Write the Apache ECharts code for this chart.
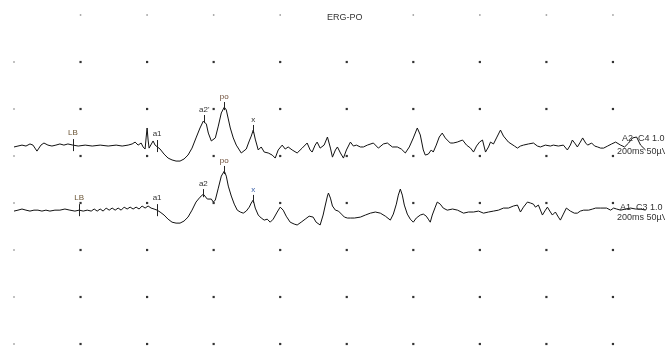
<!DOCTYPE html>
<html>
<head>
<meta charset="utf-8">
<script src="https://cdn.jsdelivr.net/npm/echarts@6/dist/echarts.min.js"></script>
<style>
  html, body { margin: 0; padding: 0; background: #fff; }
  #chart { width: 665px; height: 347px; }
</style>
</head>
<body>
<div id="chart"></div>
<script>
// Channel A2-C4: sample times (ms) and amplitudes (µV)
const ch1Time = [
  0.0,1.2,2.4,3.6,4.8,5.7,6.3,6.9,7.5,8.1,
  9.0,10.2,11.4,12.6,13.8,15.0,16.2,17.7,19.3,21.4,
  23.5,25.9,28.3,30.7,32.5,34.3,35.5,36.4,37.3,38.2,
  38.8,39.4,39.7,40.0,40.3,40.6,41.2,41.8,42.4,43.0,
  43.9,45.1,46.3,47.5,48.7,49.9,51.1,52.3,53.5,54.7,
  55.9,56.9,57.2,57.8,58.4,59.3,59.9,60.5,61.4,62.3,
  63.2,63.8,64.4,65.0,65.9,66.8,67.4,68.3,68.9,69.8,
  70.7,71.3,71.9,72.5,73.4,74.3,75.2,76.4,77.6,78.5,
  79.4,80.6,81.5,82.4,83.6,85.1,86.6,88.1,89.0,89.6,
  90.5,91.1,92.0,93.2,94.2,95.1,95.7,96.6,97.2,98.1,
  99.0,99.9,101.1,102.0,102.9,104.1,105.0,106.2,108.0,109.5,
  111.0,112.2,113.7,115.2,116.4,117.6,118.8,120.0,121.2,122.1,
  123.0,123.6,124.5,125.4,126.0,126.9,127.8,128.7,129.6,130.2,
  131.1,132.0,133.2,134.8,136.0,137.2,138.1,139.0,139.9,140.8,
  141.7,142.6,143.2,144.1,145.0,146.2,147.1,147.7,148.6,149.2,
  150.4,151.3,152.2,153.1,154.6,156.1,157.3,158.2,159.7,161.2,
  162.1,163.6,165.1,166.3,167.2,167.8,168.7,169.3,170.2,170.9,
  171.8,172.4,173.6,174.5,175.4,176.3,177.2,178.4,179.6,180.8,
  182.3,183.5,184.7,185.9,187.1,188.3,189.8
];
const ch1Volt = [
  -0.5,0,0.5,0,1.1,0.5,-1.1,-2.7,-1.1,0.5,
  1.6,0.5,0,0.5,1.1,0.5,1.1,0.5,0,0.5,
  0,0.5,0,0.5,0,0.5,1.1,2.1,0.5,1.6,
  -0.5,-1.6,4.3,9.6,3.2,-1.1,-0.5,2.7,0.5,0,
  -1.6,-4.3,-6.4,-7.4,-8.0,-8.0,-6.9,-4.8,-1.1,4.3,
  9.6,13.3,13.8,11.7,6.9,2.7,2.1,4.3,10.6,17.6,
  20.7,19.2,14.4,9.6,4.3,0.5,-0.5,-3.7,-4.3,-1.6,
  2.7,5.3,8.5,3.7,-2.1,-0.5,-3.2,-3.7,-4.8,-6.4,
  -2.1,0.5,-1.6,-0.5,-2.1,-3.7,-1.1,1.6,-2.1,-3.2,
  0.5,2.1,-1.1,0.5,4.8,-1.1,-5.9,-2.1,-0.5,-3.7,
  -6.4,-2.1,2.1,0,0.5,-0.5,-0.5,0.5,1.6,-1.1,
  1.1,1.6,-0.5,-0.5,-1.6,-3.7,-0.5,4.3,9.6,5.9,
  -2.1,-4.8,-4.3,-2.1,-3.2,0.5,4.8,6.9,4.3,3.2,
  1.6,1.6,2.1,3.2,0.5,-1.1,-3.2,0,2.1,3.2,
  -3.2,-0.5,2.1,1.1,4.3,8.5,5.3,4.3,2.1,1.6,
  0,-1.1,0,0.5,1.1,1.6,0,-0.5,0.5,0,
  0.5,0,0.5,-2.1,0.5,3.2,1.1,-0.5,2.1,4.3,
  1.6,0.5,1.6,0,-0.5,-1.1,-1.1,0,1.1,2.1,
  0.5,-0.5,1.6,4.3,4.8,0.5,-2.1
];

// Channel A1-C3: sample times (ms) and amplitudes (µV)
const ch2Time = [
  0.0,1.2,2.4,3.6,4.8,6.0,7.2,8.4,9.6,10.8,
  12.3,13.8,15.3,16.8,18.3,19.6,20.8,22.0,23.2,24.1,
  25.0,25.9,26.8,27.7,28.6,29.5,30.4,31.3,32.2,33.1,
  34.0,34.9,35.8,36.7,37.6,38.5,39.4,40.3,41.2,42.1,
  43.0,43.9,45.1,46.3,47.5,48.7,49.9,51.1,52.3,53.5,
  54.7,55.9,56.9,57.5,58.1,58.7,59.3,59.9,60.5,61.4,
  62.3,63.2,63.8,64.4,65.3,66.2,67.1,68.0,68.9,69.8,
  70.7,71.3,71.9,72.5,73.4,74.3,75.2,76.1,77.0,77.9,
  79.1,80.0,80.9,81.8,83.0,84.2,85.1,86.3,87.5,88.7,
  89.9,90.8,92.0,92.9,93.5,94.2,94.5,95.1,95.7,96.6,
  97.5,98.4,99.3,100.2,101.1,102.3,104.1,105.6,107.1,108.6,
  110.1,111.6,113.1,114.0,114.9,115.5,116.1,116.7,117.3,118.2,
  119.1,120.0,120.9,122.1,123.0,123.9,124.5,125.1,125.7,126.6,
  127.2,128.1,129.0,130.2,131.8,133.3,135.1,136.6,138.1,139.6,
  141.1,142.6,144.1,145.6,147.1,148.6,150.1,151.3,152.2,153.1,
  154.3,155.2,156.1,156.7,157.6,158.8,159.7,160.3,161.2,161.8,
  162.7,163.6,164.2,165.1,166.0,167.2,168.4,169.3,170.2,171.2,
  172.7,173.9,174.8,176.3,176.9,178.1,179.3,180.2,181.1,182.3,
  183.8,185.3,186.8,188.3,189.8
];
const ch2Volt = [
  0,0.5,1.1,0.5,0,0.5,0.5,0,0.5,0,
  0.5,0.5,1.1,0.5,0,0.5,0,0.5,0,1.1,
  0,1.1,0,1.6,0.5,1.6,0.5,1.6,0.5,2.1,
  1.1,2.1,1.1,2.1,1.1,2.7,1.6,2.7,1.6,1.1,
  0.5,-0.5,-2.1,-4.3,-5.9,-6.4,-6.4,-5.3,-3.2,0.5,
  4.8,7.4,9.0,8.5,6.4,7.4,6.4,4.8,5.9,12.2,
  18.6,21.3,18.6,13.3,8.0,3.7,0.5,-0.5,-1.1,0,
  2.1,4.3,5.9,1.6,-2.1,-3.7,-4.8,-4.3,-5.9,-4.3,
  -0.5,2.1,0.5,-2.7,-5.9,-6.9,-7.4,-5.9,-4.3,-2.7,
  -3.2,-5.9,-7.4,-2.1,2.7,8.0,9.6,6.9,2.7,0.5,
  0,-1.6,-3.2,-3.7,-3.7,-3.7,-3.2,-2.1,-1.1,-0.5,
  -1.1,-2.7,-4.8,-1.6,3.7,8.5,11.7,8.5,3.2,-1.6,
  -4.3,-5.9,-3.7,-2.1,-1.6,-2.7,-4.3,-5.9,-2.1,2.1,
  4.8,3.7,1.6,0.5,1.1,0.5,-1.1,-0.5,-0.5,0,
  -1.1,-0.5,0,0.5,1.6,1.6,2.7,3.2,-0.5,2.1,
  4.8,4.3,3.7,2.1,3.2,-2.1,0.5,2.1,-0.5,-2.1,
  -0.5,-3.2,-4.8,-1.6,1.6,0,-1.1,-1.1,0,0.5,
  0.5,1.1,1.6,1.6,2.1,1.6,0.5,1.6,1.1,0.5,
  1.1,1.6,1.1,1.1,0.5
];

// Component markers (name and latency in ms)
const ch1MarkNames = ['LB', 'a1', "a2'", 'po', 'x'];
const ch1MarkTimes = [17.7, 43.0, 57.2, 63.2, 71.9];
const ch2MarkNames = ['LB', 'a1', 'a2', 'po', 'x'];
const ch2MarkTimes = [19.6, 43.0, 56.9, 63.2, 71.9];

// Channel captions and calibration
const ch1Caption = 'A2  C4 1.0';
const ch2Caption = 'A1  C3 1.0';
const calibration = '200ms 50\u00b5V';

// Display layout: 20 ms and 25 µV per grid division
const DIV_MS = 20, X_DIVS = 10;
const DIV_UV = 25, Y_DIVS = 7;
const ch1Baseline = 105.3;   // µV offset where channel A2-C4 is drawn
const ch2Baseline = 70.7;    // µV offset where channel A1-C3 is drawn

const FONT = '"Liberation Sans", Arial, sans-serif';
const PEAKS = new Set(["a2'", 'a2', 'po', 'x']);

function trace(times, volts, base) {
  return times.map((t, i) => [t, volts[i] + base]);
}
function valueAt(times, volts, t) {
  let best = 0;
  times.forEach((tt, i) => { if (Math.abs(tt - t) < Math.abs(times[best] - t)) best = i; });
  return volts[best];
}
function markers(names, times, tArr, vArr, base, colors) {
  const lines = [], points = [];
  names.forEach((name, i) => {
    const t = times[i];
    const v = valueAt(tArr, vArr, t) + base;
    const peak = PEAKS.has(name);
    const lo = peak ? v - 1.6 : v - 3.2;
    const hi = peak ? v + 2.7 : v + 3.2;
    lines.push([{ coord: [t, lo] }, { coord: [t, hi] }]);
    points.push({
      name: name,
      coord: [t, hi],
      value: v,
      label: {
        show: true, formatter: name, position: 'top', distance: peak ? 1 : 2,
        fontSize: 8, fontFamily: FONT, color: colors[name] || '#333'
      }
    });
  });
  return { lines, points };
}

const ch1Marks = markers(ch1MarkNames, ch1MarkTimes, ch1Time, ch1Volt, ch1Baseline,
  { 'LB': '#6b5535', 'po': '#6b4a35' });
const ch2Marks = markers(ch2MarkNames, ch2MarkTimes, ch2Time, ch2Volt, ch2Baseline,
  { 'LB': '#6b5535', 'po': '#6b4a35', 'x': '#3a5fa8' });

// Dotted reference grid at every division intersection
const gridDots = [];
for (let c = 0; c < X_DIVS; c++) {
  for (let r = 0; r <= Y_DIVS; r++) {
    const t = c * DIV_MS, v = r * DIV_UV;
    if (c === 0 && r === Y_DIVS) continue;
    const faint = c === 0 || r === Y_DIVS;
    gridDots.push({
      value: [t, v],
      symbolSize: faint ? 1.5 : 2.2,
      itemStyle: { color: faint ? '#777' : '#000' }
    });
  }
}

function lineSeries(name, data, marks) {
  return {
    name: name, type: 'line', data: data, showSymbol: false, symbol: 'none',
    lineStyle: { color: '#111', width: 1 }, z: 3, silent: true, animation: false,
    markLine: {
      silent: true, symbol: ['none', 'none'], animation: false,
      label: { show: false }, emphasis: { disabled: true },
      lineStyle: { color: '#222', width: 1, type: 'solid' },
      data: marks.lines
    },
    markPoint: {
      silent: true, symbol: 'circle', symbolSize: 1, animation: false,
      itemStyle: { color: 'rgba(0,0,0,0)' },
      data: marks.points
    }
  };
}

const chart = echarts.init(document.getElementById('chart'), null, { renderer: 'canvas' });
chart.setOption({
  animation: false,
  backgroundColor: '#fff',
  title: {
    text: 'ERG-PO', left: 327, top: 13, padding: 0,
    backgroundColor: '#fff',
    textStyle: { fontSize: 9, fontWeight: 'normal', color: '#333', fontFamily: FONT }
  },
  grid: {
    left: 14, right: -14.5, top: 15, bottom: 3,
    containLabel: false, outerBoundsMode: 'none'
  },
  xAxis: {
    type: 'value', min: 0, max: X_DIVS * DIV_MS, interval: DIV_MS,
    show: false, splitLine: { show: false }
  },
  yAxis: {
    type: 'value', min: 0, max: Y_DIVS * DIV_UV, interval: DIV_UV,
    show: false, splitLine: { show: false }
  },
  graphic: [
    { type: 'text', left: 622, top: 134, z: 10, style: { text: ch1Caption, font: '9px ' + FONT, fill: '#333' } },
    { type: 'text', left: 617, top: 147, z: 10, style: { text: calibration, font: '9px ' + FONT, fill: '#333' } },
    { type: 'text', left: 620, top: 203, z: 10, style: { text: ch2Caption, font: '9px ' + FONT, fill: '#333' } },
    { type: 'text', left: 617, top: 213, z: 10, style: { text: calibration, font: '9px ' + FONT, fill: '#333' } }
  ],
  series: [
    {
      name: 'grid', type: 'scatter', symbol: 'rect', data: gridDots,
      z: 1, silent: true, animation: false
    },
    lineSeries('A2-C4', trace(ch1Time, ch1Volt, ch1Baseline), ch1Marks),
    lineSeries('A1-C3', trace(ch2Time, ch2Volt, ch2Baseline), ch2Marks)
  ]
});
</script>
</body>
</html>
